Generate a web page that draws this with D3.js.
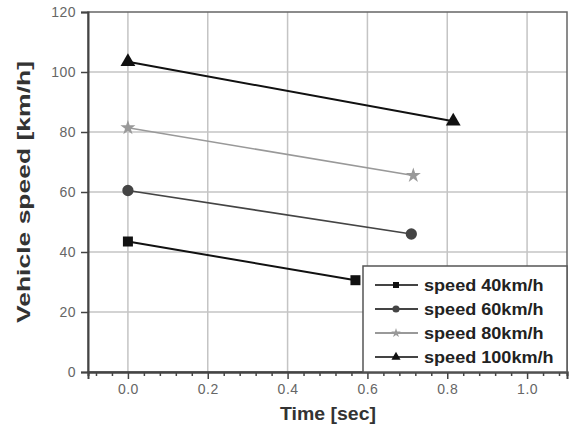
<!DOCTYPE html>
<html>
<head>
<meta charset="utf-8">
<script src="https://cdn.jsdelivr.net/npm/d3@7"></script>
<style>
  body { margin: 0; background: #fff; }
  svg { font-family: "Liberation Sans", Arial, sans-serif; }
</style>
</head>
<body>
<svg id="chart" width="571" height="425"></svg>
<script>
// data
const seriesNames = ["speed 40km/h", "speed 60km/h", "speed 80km/h", "speed 100km/h"];
const timeValues = [
  [0.0, 0.57],
  [0.0, 0.71],
  [0.0, 0.715],
  [0.0, 0.815]
];
const speedValues = [
  [43.5, 30.6],
  [60.5, 46.0],
  [81.4, 65.5],
  [103.4, 83.6]
];
const xTicks = [0.0, 0.2, 0.4, 0.6, 0.8, 1.0];
const yTicks = [0, 20, 40, 60, 80, 100, 120];

const svg = d3.select("#chart");
const margin = {left: 88, top: 12, right: 4, bottom: 53};
const width = 571, height = 425;

const x = d3.scaleLinear().domain([-0.1, 1.1]).range([margin.left, width - margin.right]);
const y = d3.scaleLinear().domain([0, 120]).range([height - margin.bottom, margin.top]);

const styles = [
  {color: "#111", width: 2, symbol: d3.symbolSquare, size: 100, lsize: 36},
  {color: "#444", width: 1.6, symbol: d3.symbolCircle, size: 100, lsize: 40},
  {color: "#999", width: 1.6, symbol: d3.symbolStar, size: 70, lsize: 28},
  {color: "#111", width: 2, symbol: d3.symbolTriangle, size: 95, lsize: 36}
];

// grid
const grid = svg.append("g").attr("stroke", "#c4c4c4").attr("stroke-width", 1.5);
grid.selectAll(".gx").data(xTicks).enter().append("line")
  .attr("x1", d => x(d)).attr("x2", d => x(d))
  .attr("y1", y(120)).attr("y2", y(0));
grid.selectAll(".gy").data(yTicks.slice(1, -1)).enter().append("line")
  .attr("x1", x(-0.1)).attr("x2", x(1.1))
  .attr("y1", d => y(d)).attr("y2", d => y(d));

// frame
svg.append("rect")
  .attr("x", x(-0.1)).attr("y", y(120))
  .attr("width", x(1.1) - x(-0.1)).attr("height", y(0) - y(120))
  .attr("fill", "none").attr("stroke", "#666").attr("stroke-width", 1.5);

// axes
const yAxis = svg.append("g")
  .attr("transform", `translate(${margin.left},0)`)
  .call(d3.axisLeft(y).tickValues(yTicks).tickSize(7).tickPadding(5));
const minorTicks = d3.range(-0.08, 1.1, 0.04).filter(t => xTicks.every(m => Math.abs(m - t) > 1e-6));
const xMinor = svg.append("g")
  .attr("transform", `translate(0,${y(0)})`)
  .call(d3.axisBottom(x).tickValues(minorTicks).tickSize(4).tickFormat(""));
const xAxis = svg.append("g")
  .attr("transform", `translate(0,${y(0)})`)
  .call(d3.axisBottom(x).tickValues(xTicks).tickSize(7).tickPadding(5).tickFormat(d3.format(".1f")));

[yAxis, xAxis, xMinor].forEach(a => {
  a.select(".domain").attr("stroke", "#444").attr("stroke-width", 2);
  a.selectAll(".tick line").attr("stroke", "#444").attr("stroke-width", 1.5);
  a.selectAll(".tick text").attr("fill", "#666").attr("font-size", 14)
    .attr("letter-spacing", "0.5px");
});

// axis titles
svg.append("text")
  .attr("transform", `translate(30,${(y(0) + y(120)) / 2}) rotate(-90)`)
  .attr("text-anchor", "middle")
  .attr("font-weight", "bold").attr("font-size", 19).attr("fill", "#333")
  .attr("textLength", 262).attr("lengthAdjust", "spacingAndGlyphs")
  .text("Vehicle speed [km/h]");
svg.append("text")
  .attr("x", 328).attr("y", 420)
  .attr("text-anchor", "middle")
  .attr("font-weight", "bold").attr("font-size", 18).attr("fill", "#333")
  .attr("textLength", 96).attr("lengthAdjust", "spacingAndGlyphs")
  .text("Time [sec]");

// series
const line = d3.line().x(d => x(d[0])).y(d => y(d[1]));
seriesNames.forEach((name, i) => {
  const pts = timeValues[i].map((t, j) => [t, speedValues[i][j]]);
  const s = styles[i];
  svg.append("path").datum(pts)
    .attr("d", line).attr("fill", "none")
    .attr("stroke", s.color).attr("stroke-width", s.width);
  svg.selectAll(null).data(pts).enter().append("path")
    .attr("transform", d => `translate(${x(d[0])},${y(d[1])})`)
    .attr("d", d3.symbol().type(s.symbol).size(s.size))
    .attr("fill", s.color);
});

// legend
const lg = svg.append("g");
lg.append("rect")
  .attr("x", 363).attr("y", 266)
  .attr("width", x(1.1) - 363).attr("height", y(0) - 266)
  .attr("fill", "#fff").attr("stroke", "#555").attr("stroke-width", 1.5);
seriesNames.forEach((name, i) => {
  const s = styles[i];
  const ry = 285 + i * 24;
  lg.append("line")
    .attr("x1", 375).attr("x2", 418).attr("y1", ry).attr("y2", ry)
    .attr("stroke", s.color === "#111" ? "#444" : s.color).attr("stroke-width", 2);
  lg.append("path")
    .attr("transform", `translate(396,${ry})`)
    .attr("d", d3.symbol().type(s.symbol).size(s.lsize))
    .attr("fill", s.color);
  lg.append("text")
    .attr("transform", `translate(424,${ry}) scale(1.13,1)`)
    .attr("dy", "0.36em")
    .attr("font-weight", "bold").attr("font-size", 16).attr("fill", "#222")
    .text(name);
});
</script>
</body>
</html>
